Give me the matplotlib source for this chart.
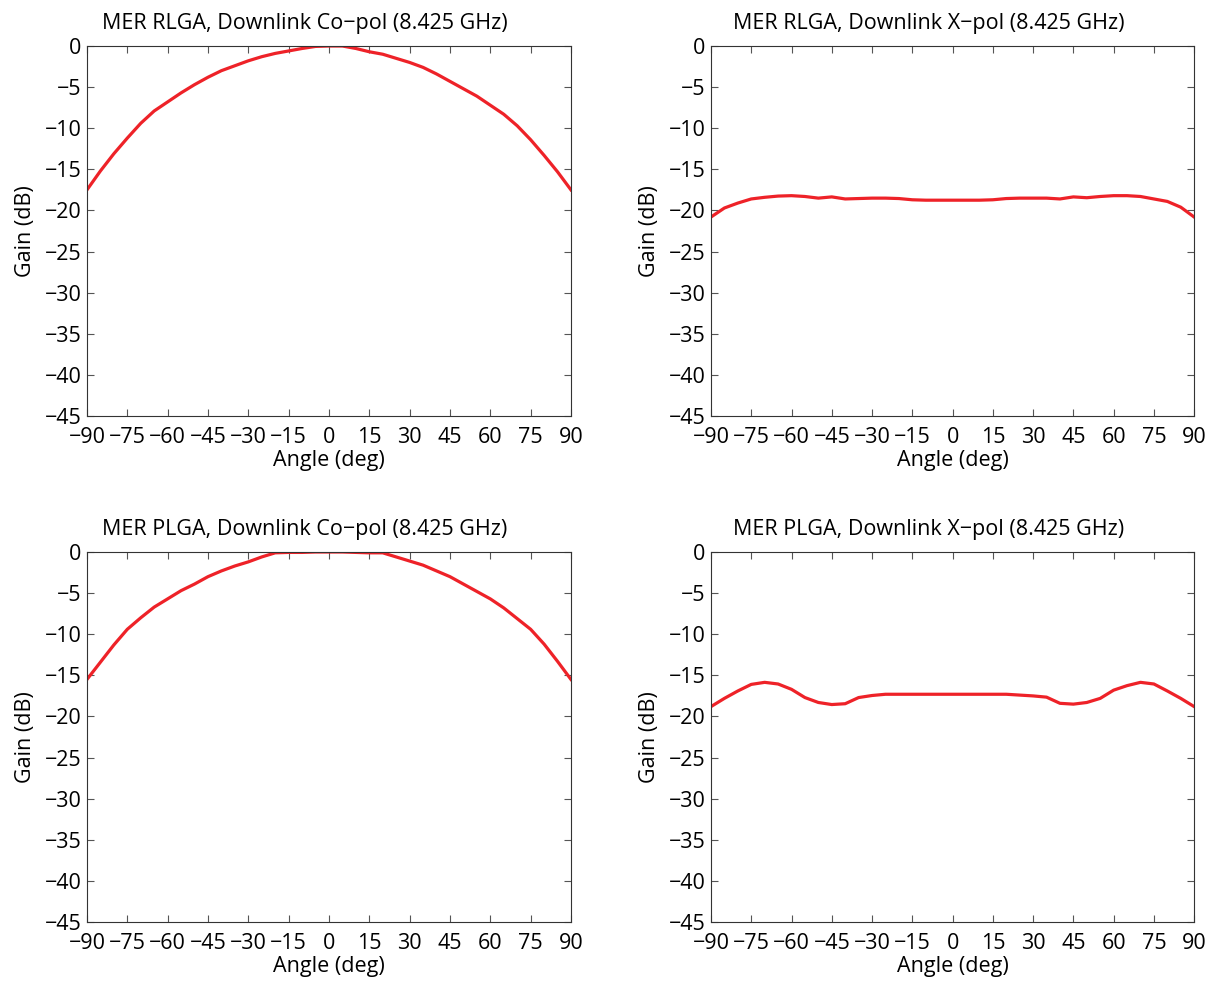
import numpy as np
import matplotlib
matplotlib.use("Agg")
import matplotlib.pyplot as plt

plt.rcParams["font.family"] = ["Open Sans", "DejaVu Sans"]
plt.rcParams["axes.unicode_minus"] = True

angle = np.arange(-90, 91, 5)

rlga_co = [-17.5, -15.2, -13.1, -11.2, -9.4, -7.9, -6.8, -5.7, -4.7, -3.8,
           -3.0, -2.4, -1.8, -1.3, -0.9, -0.6, -0.3, -0.05, 0.0, 0.0,
           -0.3, -0.7, -1.0, -1.5, -2.0, -2.6, -3.4, -4.3, -5.2, -6.1,
           -7.2, -8.3, -9.7, -11.4, -13.3, -15.3, -17.5]

rlga_x = [-20.8, -19.7, -19.1, -18.6, -18.4, -18.25, -18.2, -18.3, -18.5, -18.35,
          -18.6, -18.55, -18.5, -18.5, -18.55, -18.7, -18.75, -18.75, -18.75, -18.75,
          -18.75, -18.7, -18.55, -18.5, -18.5, -18.5, -18.6, -18.35, -18.45, -18.3,
          -18.2, -18.2, -18.3, -18.6, -18.9, -19.6, -20.8]

plga_co = [-15.5, -13.4, -11.3, -9.4, -8.0, -6.7, -5.7, -4.7, -3.9, -3.0,
           -2.3, -1.7, -1.2, -0.6, -0.1, -0.05, -0.05, 0.0, 0.0, 0.0,
           -0.05, -0.1, -0.1, -0.6, -1.1, -1.6, -2.3, -3.0, -3.9, -4.8,
           -5.7, -6.8, -8.1, -9.4, -11.2, -13.3, -15.5]

plga_x = [-18.8, -17.8, -16.9, -16.1, -15.85, -16.05, -16.7, -17.7, -18.3, -18.55,
          -18.45, -17.7, -17.45, -17.3, -17.3, -17.3, -17.3, -17.3, -17.3, -17.3,
          -17.3, -17.3, -17.3, -17.4, -17.5, -17.65, -18.4, -18.5, -18.3, -17.8,
          -16.8, -16.25, -15.85, -16.05, -16.9, -17.8, -18.8]

panels = [
    ("MER RLGA, Downlink Co\u2212pol (8.425 GHz)", rlga_co, [0.0718, 0.5759, 0.3997, 0.3772]),
    ("MER RLGA, Downlink X\u2212pol (8.425 GHz)", rlga_x, [0.5871, 0.5759, 0.3990, 0.3772]),
    ("MER PLGA, Downlink Co\u2212pol (8.425 GHz)", plga_co, [0.0718, 0.0601, 0.3997, 0.3772]),
    ("MER PLGA, Downlink X\u2212pol (8.425 GHz)", plga_x, [0.5871, 0.0601, 0.3990, 0.3772]),
]

fig = plt.figure(figsize=(12.11, 9.81), dpi=100)

for title, gain, rect in panels:
    ax = fig.add_axes(rect)
    ax.plot(angle, gain, color="#ee2228", linewidth=2.3)
    ax.set_xlim(-90, 90)
    ax.set_ylim(-45, 0)
    ax.set_xticks(np.arange(-90, 91, 15))
    ax.set_yticks(np.arange(-45, 1, 5))
    ax.tick_params(direction="in", length=5, width=0.8, labelsize=15.5,
                   top=True, right=True, color="#555555")
    ax.tick_params(axis="x", pad=8)
    ax.tick_params(axis="y", pad=4)
    for s in ax.spines.values():
        s.set_linewidth(0.8)
        s.set_color("#333333")
    ax.set_title(title, fontsize=15.5, x=0.45, pad=12)
    ax.set_xlabel("Angle (deg)", fontsize=15.5, labelpad=1)
    ax.set_ylabel("Gain (dB)", fontsize=15.5, labelpad=6)

fig.savefig("out.png", dpi=100)
